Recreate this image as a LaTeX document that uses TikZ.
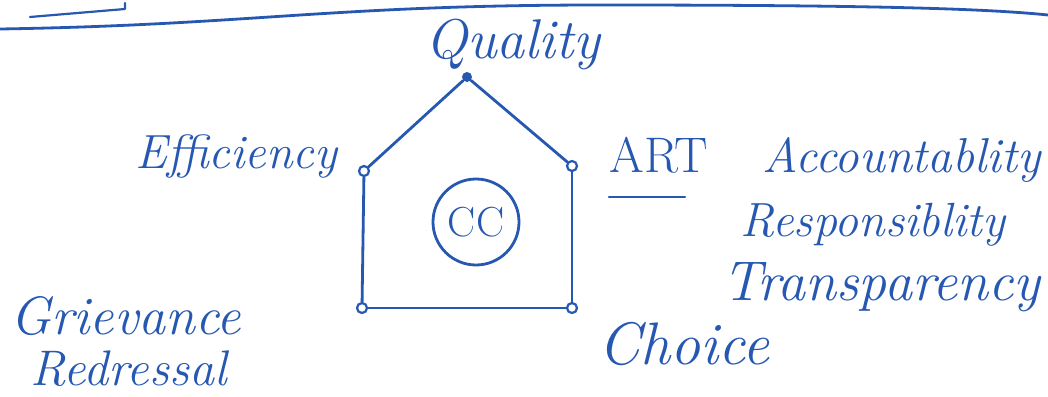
\documentclass[tikz,border=0pt]{standalone}
\usepackage{fontspec}
\setmainfont{Latin Modern Roman}
\definecolor{ink}{RGB}{38,88,178}
\begin{document}
\begin{tikzpicture}[x=0.5pt,y=-0.5pt,
  ink line/.style={draw=ink,line width=1.4pt,line cap=round,line join=round},
  vtx/.style={circle,draw=ink,line width=1.1pt,inner sep=0pt,minimum size=5pt},
  vtxfill/.style={circle,fill=ink,inner sep=0pt,minimum size=5pt},
  hand/.style={text=ink,font=\itshape,inner sep=0pt,anchor=base west}]
\useasboundingbox[fill=white] (0,0) rectangle (1048,396);
% top rules
\coordinate (r0) at (0,29);
\coordinate (r1) at (1048,15);
\draw[ink line] (r0) .. controls (250,25) and (330,5) .. (600,5)
  .. controls (850,5) and (980,8) .. (r1);
\coordinate (s0) at (30,17);
\coordinate (s1) at (125,9);
\coordinate (s2) at (125,3);
\draw[ink line,line width=1.1pt] (s0) -- (s1) -- (s2);
% pentagon vertices
\node[vtxfill] (q) at (467,77) {};
\node[vtx] (e) at (364,171) {};
\node[vtx] (a) at (572,166) {};
\node[vtx] (g) at (362,308) {};
\node[vtx] (c) at (572,308) {};
\draw[ink line] (q) -- (e);
\draw[ink line] (q) -- (a);
\draw[ink line] (e) -- (g);
\draw[ink line] (a) -- (c);
\draw[ink line] (g) -- (c);
% centre
\node[ink line,circle,minimum size=43pt,inner sep=0pt,text=ink,
  font=\fontsize{21}{24}\selectfont] (cc) at (476,222) {CC};
% labels
\node[hand,font=\fontsize{28}{32}\selectfont\itshape] (lq) at (425,58) {Quality};
\node[hand,font=\fontsize{24}{28}\selectfont\itshape] (le) at (135,168) {Efficiency};
\node[hand,font=\fontsize{25}{28}\selectfont] (lart) at (609,172) {ART};
\coordinate (u0) at (609,197);
\coordinate (u1) at (685,197);
\draw[ink line,line width=1.1pt] (u0) -- (u1);
\node[hand,font=\fontsize{24.5}{28}\selectfont\itshape] (lacc) at (762,172) {Accountablity};
\node[hand,font=\fontsize{24}{28}\selectfont\itshape] (lres) at (740,236) {Responsiblity};
\node[hand,font=\fontsize{28}{32}\selectfont\itshape] (ltra) at (722,300) {Transparency};
\node[hand,font=\fontsize{27}{30}\selectfont\itshape] (lgr) at (10,334) {Grievance};
\node[hand,font=\fontsize{25}{28}\selectfont\itshape] (lred) at (30,385) {Redressal};
\node[hand,font=\fontsize{30}{34}\selectfont\itshape] (lch) at (598,364) {Choice};
\end{tikzpicture}
\end{document}
